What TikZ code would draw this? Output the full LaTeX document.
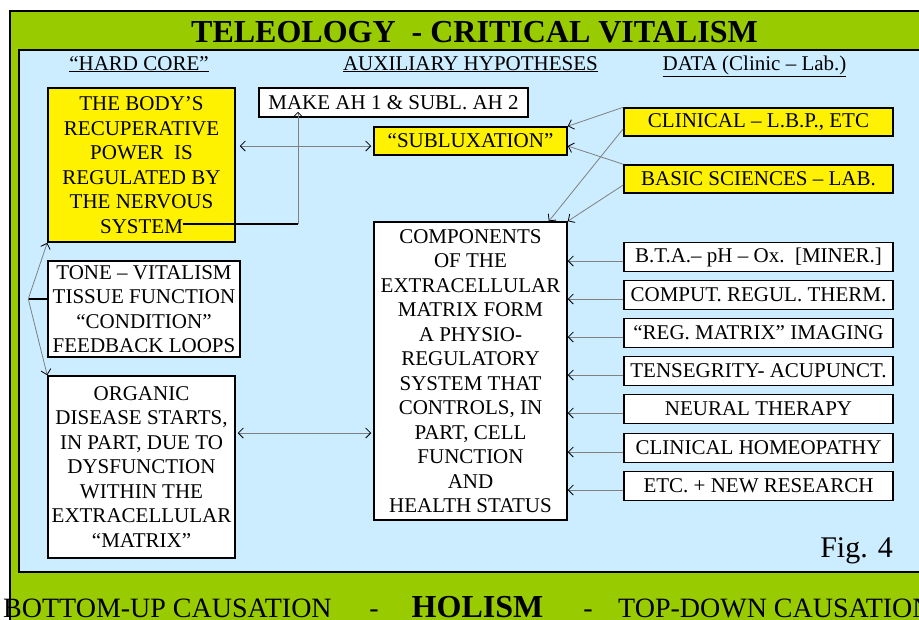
\documentclass[tikz,border=0pt]{standalone}
\usepackage{fontspec}
\setmainfont{Liberation Serif}
\usepackage{tikz}
\usetikzlibrary{arrows.meta}

\definecolor{bandgreen}{HTML}{99CC00}
\definecolor{panelblue}{HTML}{CCECFF}
\newcommand{\boxfont}{\fontsize{21}{24.5}\selectfont}

\begin{document}
\begin{tikzpicture}[x=1pt, y=-1pt,
  box/.style={draw, line width=1.5pt, inner sep=0pt, align=center, font=\boxfont},
  ybox/.style={box, fill=yellow},
  wbox/.style={box, fill=white},
  databox/.style={minimum width=269pt, minimum height=29pt},
  conn/.style={draw=black!50, line width=0.8pt},
  >={Straight Barb[length=5pt,width=10pt,color=black]}]
\useasboundingbox (0,0) rectangle (919,619);
\clip (0,0) rectangle (919,619);

\draw[line width=1.5pt, fill=bandgreen] (10,11) rectangle (940,660);
\draw[line width=1.5pt, fill=panelblue] (19,50) rectangle (940,572);

\node[anchor=base, inner sep=0pt, font=\fontsize{32}{36}\selectfont\bfseries] (title) at (474.5,42) {TELEOLOGY\ \ - CRITICAL VITALISM};

\node[anchor=base, inner sep=0pt, font=\boxfont] (hcore) at (139,70) {\underline{“HARD CORE”}};
\node[anchor=base, inner sep=0pt, font=\boxfont] (aux) at (470.5,70) {\underline{AUXILIARY HYPOTHESES}};
\node[anchor=base, inner sep=0pt, font=\boxfont] (data) at (754.5,70) {\underline{DATA (Clinic – Lab.)}};

\node[ybox, minimum width=187pt, minimum height=154pt] (body) at (141.5,165) {THE BODY’S\\RECUPERATIVE\\POWER\ \ IS\\REGULATED BY\\THE NERVOUS\\SYSTEM};
\node[wbox, minimum width=269pt, minimum height=29pt] (make) at (393.5,102.5) {MAKE AH 1 \& SUBL. AH 2};
\node[ybox, minimum width=193pt, minimum height=28pt] (subl) at (470.5,141) {“SUBLUXATION”};
\node[wbox, minimum width=193pt, minimum height=298pt] (comp) at (470.5,371) {COMPONENTS\\OF THE\\EXTRACELLULAR\\MATRIX FORM\\A PHYSIO-\\REGULATORY\\SYSTEM THAT\\CONTROLS, IN\\PART, CELL\\FUNCTION\\AND\\HEALTH STATUS};
\node[wbox, minimum width=192pt, minimum height=96pt] (tone) at (144,309) {TONE – VITALISM\\TISSUE FUNCTION\\“CONDITION”\\FEEDBACK LOOPS};
\node[wbox, minimum width=187pt, minimum height=182pt] (organic) at (141.5,467) {ORGANIC\\DISEASE STARTS,\\IN PART, DUE TO\\DYSFUNCTION\\WITHIN THE\\EXTRACELLULAR\\“MATRIX”};

\node[ybox, databox, minimum height=28pt] (clinical) at (758.5,122) {CLINICAL – L.B.P., ETC};
\node[ybox, databox, minimum height=28pt] (basic) at (758.5,179) {BASIC SCIENCES – LAB.};
\node[wbox, databox] (bta) at (758.5,257) {B.T.A.– pH – Ox.\ \ [MINER.]};
\node[wbox, databox] (comput) at (758.5,295) {COMPUT. REGUL. THERM.};
\node[wbox, databox] (imaging) at (758.5,333) {“REG. MATRIX” IMAGING};
\node[wbox, databox] (tenseg) at (758.5,371) {TENSEGRITY- ACUPUNCT.};
\node[wbox, databox] (neural) at (758.5,409) {NEURAL THERAPY};
\node[wbox, databox] (homeo) at (758.5,448) {CLINICAL HOMEOPATHY};
\node[wbox, databox] (research) at (758.5,486) {ETC. + NEW RESEARCH};

\node[anchor=base east, inner sep=0pt, font=\fontsize{30}{34}\selectfont] (fig) at (893,557) {Fig. 4};

\node[anchor=base west, inner sep=0pt, font=\fontsize{28}{32}\selectfont] (bottomup) at (3,617.5) {BOTTOM-UP CAUSATION};
\node[anchor=base, inner sep=0pt, font=\fontsize{28}{32}\selectfont] (dasha) at (374,617.5) {-};
\node[anchor=base, inner sep=0pt, font=\fontsize{32}{36}\selectfont\bfseries] (holism) at (477.5,617) {HOLISM};
\node[anchor=base, inner sep=0pt, font=\fontsize{28}{32}\selectfont] (dashb) at (588,617.5) {-};
\node[anchor=base west, inner sep=0pt, font=\fontsize{28}{32}\selectfont] (topdown) at (618,617.5) {TOP-DOWN CAUSATION};

% hard core links
\coordinate (sysend) at (183,224);
\coordinate (elbow) at (298,224);
\draw[line width=1.2pt] (sysend) -- (elbow);
\draw[conn,->,shorten >=-6pt] (elbow) -- (elbow |- make.south);
\draw[conn,<->,shorten <=4pt,shorten >=2pt] ([yshift=-5pt]body.east |- subl.west) -- ([yshift=-5pt]subl.west);

\coordinate (fork) at ([xshift=-19pt,yshift=10pt]tone.west);
\draw[line width=1.5pt] ([yshift=10pt]tone.west) -- (fork);
\draw[conn,->] (fork) -- (body.south west);
\draw[conn,->] (fork) -- (organic.north west);
\draw[conn,<->,shorten <=2pt,shorten >=2pt] ([yshift=34pt]organic.east) -- ([yshift=34pt]organic.east -| comp.west);

% data links
\draw[conn,->] (clinical.north west) -- (subl.north east);
\draw[conn,->] (basic.north west) -- ([yshift=-5pt]subl.east);
\draw[conn,->] ([yshift=8pt]clinical.south west) -- ([xshift=-19pt]comp.north east);
\draw[conn,->] ([yshift=-6pt]basic.west) -- (comp.north east);
\draw[conn,->] ([yshift=-4pt]bta.west) -- ([yshift=-4pt]bta.west -| comp.east);
\draw[conn,->] ([yshift=-4pt]comput.west) -- ([yshift=-4pt]comput.west -| comp.east);
\draw[conn,->] ([yshift=-4pt]imaging.west) -- ([yshift=-4pt]imaging.west -| comp.east);
\draw[conn,->] ([yshift=-4pt]tenseg.west) -- ([yshift=-4pt]tenseg.west -| comp.east);
\draw[conn,->] ([yshift=-4pt]neural.west) -- ([yshift=-4pt]neural.west -| comp.east);
\draw[conn,->] ([yshift=-4pt]homeo.west) -- ([yshift=-4pt]homeo.west -| comp.east);
\draw[conn,->] ([yshift=-4pt]research.west) -- ([yshift=-4pt]research.west -| comp.east);
\end{tikzpicture}
\end{document}
